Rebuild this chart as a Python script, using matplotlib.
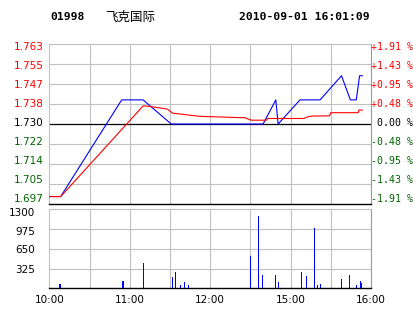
import matplotlib
matplotlib.use('Agg')
import matplotlib.pyplot as plt

# ---- data ----
code = "01998"
name = "飞克国际"
timestamp = "2010-09-01 16:01:09"
prev_close = 1.730
price_step = 0.00825
price_labels = ["1.763", "1.755", "1.747", "1.738", "1.730", "1.722", "1.714", "1.705", "1.697"]
pct_labels = ["+1.91 %", "+1.43 %", "+0.95 %", "+0.48 %", "0.00 %", "-0.48 %", "-0.95 %", "-1.43 %", "-1.91 %"]
time_labels = ["10:00", "11:00", "12:00", "15:00", "16:00"]
time_pos = [0, 60, 120, 180, 240]

price_t = [0, 8.5, 54, 70, 91, 159.5, 169, 170.7, 187, 202, 218, 224.6, 229, 231.5, 233.5]
price_v = [1.700, 1.700, 1.740, 1.740, 1.730, 1.730, 1.740, 1.730, 1.740, 1.740, 1.750, 1.740, 1.740, 1.750, 1.750]

avg_t = [0, 8.5, 70, 75, 82, 88, 92, 100, 112, 140, 146, 150.6, 162, 163, 189.7, 193, 196, 209, 210, 230.5, 231, 233.5]
avg_v = [1.7000, 1.7000, 1.7375, 1.7373, 1.7367, 1.7362, 1.7345, 1.7340, 1.7332, 1.7327, 1.7326, 1.7316,
         1.7316, 1.7323, 1.7323, 1.7330, 1.7333, 1.7334, 1.7347, 1.7347, 1.7358, 1.7358]

vol_t = [8, 55, 70, 92, 94, 98, 101, 104, 150, 156, 159, 169, 171, 188, 192, 198, 200, 202, 218, 224, 229, 232, 233]
vol_v = [70, 120, 421, 186, 268, 54, 104, 54, 531, 1190, 219, 219, 104, 268, 202, 992, 54, 71, 153, 219, 54, 125, 87]
vol_labels = ["1300", "975", "650", "325"]
vol_ticks = [325, 650, 975]
vol_max = 1300

RED = "#ff0000"
GREEN = "#006400"
BLUE = "#0000ff"
GRID = "#c0c0c0"

W, H = 414, 314
fig = plt.figure(figsize=(W / 100, H / 100), dpi=100)
fig.patch.set_facecolor("white")

def frac_rect(x0, y0, x1, y1):
    return [x0 / W, 1 - y1 / H, (x1 - x0) / W, (y1 - y0) / H]

ax = fig.add_axes(frac_rect(49.3, 44.3, 371, 203.8))
axv = fig.add_axes(frac_rect(49.3, 209.3, 371, 288.3))

# ---- main price panel ----
ymin = prev_close - 4 * price_step
ymax = prev_close + 4 * price_step
ax.set_xlim(0, 240)
ax.set_ylim(ymin, ymax)
for k in range(1, 8):
    ax.axvline(k * 30, color=GRID, lw=0.8, zorder=1)
for k in range(-3, 4):
    if k != 0:
        ax.axhline(prev_close + k * price_step, color=GRID, lw=0.8, zorder=1)
ax.axhline(prev_close, color="black", lw=0.9, zorder=2)
ax.plot(price_t, price_v, color=BLUE, lw=0.8, zorder=3)
ax.plot(avg_t, avg_v, color=RED, lw=0.8, zorder=4)
ax.set_xticks([])
ax.set_yticks([])
for s in ["left", "top"]:
    ax.spines[s].set_color(GRID)
    ax.spines[s].set_linewidth(0.8)
ax.spines["right"].set_color("#999999")
ax.spines["right"].set_linewidth(0.8)
ax.spines["bottom"].set_color("black")
ax.spines["bottom"].set_linewidth(1.0)

n = len(price_labels)
for i, (pl, ql) in enumerate(zip(price_labels, pct_labels)):
    yf = 0.981 - i * (0.981 - 0.028) / (n - 1)
    if i < 4:
        c = RED
    elif i == 4:
        c = "black"
    else:
        c = GREEN
    ax.text(-0.017, yf, pl, transform=ax.transAxes, ha="right", va="center",
            fontsize=7.5, color=c, family="DejaVu Sans")
    ax.text(1.0 + 42 / 321.7, yf, ql, transform=ax.transAxes, ha="right", va="center",
            fontsize=7.1, color=c, family="DejaVu Sans Mono")

# ---- volume panel ----
axv.set_xlim(0, 240)
axv.set_ylim(0, vol_max)
for k in range(1, 8):
    axv.axvline(k * 30, color=GRID, lw=0.8, zorder=1)
for v in vol_ticks:
    axv.axhline(v, color=GRID, lw=0.8, zorder=1)
axv.bar(vol_t, vol_v, width=0.8, color=BLUE, linewidth=0, zorder=3)
axv.set_yticks([])
axv.set_xticks(time_pos)
axv.set_xticklabels(time_labels, fontsize=7.5, family="DejaVu Sans")
axv.tick_params(axis="x", length=0, pad=5)
for s in ["left", "top"]:
    axv.spines[s].set_color(GRID)
    axv.spines[s].set_linewidth(0.8)
axv.spines["right"].set_color("#999999")
axv.spines["right"].set_linewidth(0.8)
axv.spines["bottom"].set_color("black")
axv.spines["bottom"].set_linewidth(1.0)

vol_yf = [0.953, 0.717, 0.485, 0.232]
for lab, yf in zip(vol_labels, vol_yf):
    axv.text(-14 / 321.7, yf, lab, transform=axv.transAxes, ha="right", va="center",
             fontsize=7.5, color="black", family="DejaVu Sans")

# ---- title ----
ty = 1 - 17 / H
fig.text(50 / W, ty, code, ha="left", va="center", fontsize=8.2,
         family="DejaVu Sans Mono", fontweight="bold")
fig.text(105 / W, ty, name, ha="left", va="center", fontsize=9,
         family=["Noto Sans CJK SC", "DejaVu Sans"])
fig.text(370 / W, ty, timestamp, ha="right", va="center", fontsize=8.2,
         family="DejaVu Sans Mono", fontweight="bold")

fig.savefig("out.png", dpi=100)
